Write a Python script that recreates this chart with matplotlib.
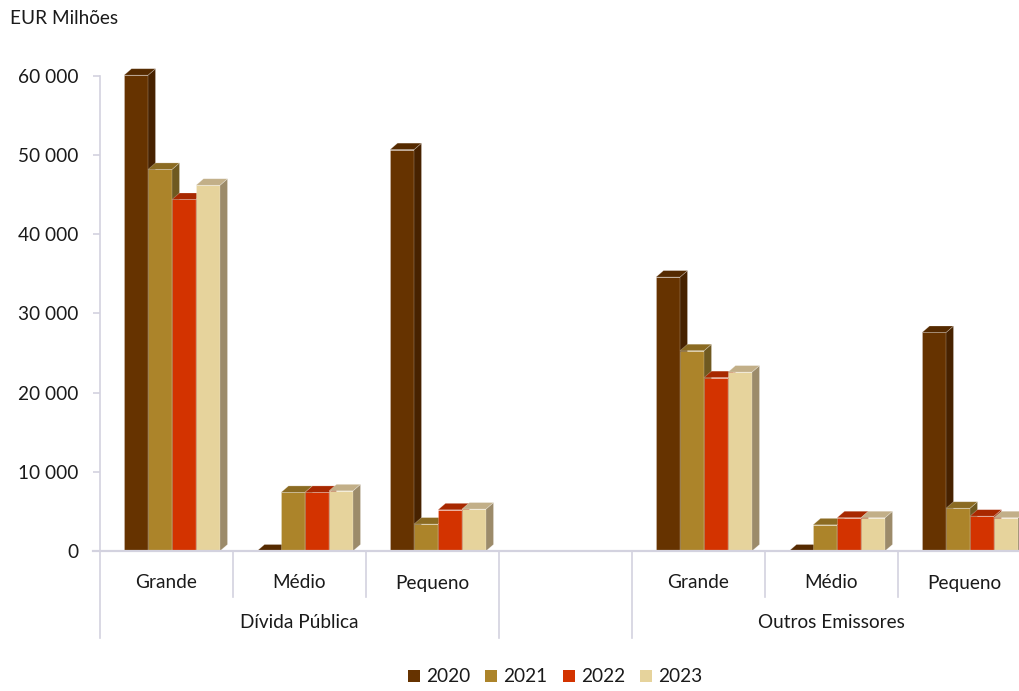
import matplotlib
matplotlib.use("Agg")
import matplotlib.pyplot as plt
from matplotlib.patches import Polygon, Rectangle, Patch
from matplotlib.ticker import FuncFormatter

plt.rcParams["font.family"] = ["Lato", "DejaVu Sans"]

# ---- data -------------------------------------------------------------
groups = ["Dívida Pública", "Outros Emissores"]
sizes = ["Grande", "Médio", "Pequeno"]
years = ["2020", "2021", "2022", "2023"]

# EUR millions, order: Grande, Médio, Pequeno
divida_publica = {
    "2020": [60100, 0, 50700],
    "2021": [48200, 7400, 3400],
    "2022": [44400, 7400, 5200],
    "2023": [46200, 7600, 5300],
}
outros_emissores = {
    "2020": [34600, 0, 27600],
    "2021": [25300, 3300, 5400],
    "2022": [21900, 4200, 4400],
    "2023": [22600, 4200, 4200],
}
yticks = [0, 10000, 20000, 30000, 40000, 50000, 60000]

# ---- styling ----------------------------------------------------------
front_col = {"2020": "#663300", "2021": "#ac842a", "2022": "#d33300", "2023": "#e6d39c"}
top_col = {"2020": "#552a00", "2021": "#8b6b22", "2022": "#a82800", "2023": "#c2af88"}
side_col = {"2020": "#472200", "2021": "#6f5920", "2022": "#962600", "2023": "#9c8b6a"}
axis_col = "#d3d2df"
text_col = "#1a1a1a"
fs = 13.7

W, H = 1019, 691
fig = plt.figure(figsize=(W / 100, H / 100), dpi=100)

ax_left, ax_right, ax_top, ax_bottom = 100, 1019, 60, 551
ax = fig.add_axes([ax_left / W, 1 - ax_bottom / H,
                   (ax_right - ax_left) / W, (ax_bottom - ax_top) / H])

slot_px = 133.0
ymax = 62021
ax.set_xlim(0, (ax_right - ax_left) / slot_px)
ax.set_ylim(0, ymax)

px_per_unit = (ax_bottom - ax_top) / ymax
bar_w = 24 / slot_px
gap = 24 / slot_px
dx = 7.5 / slot_px
dy = 6.5 / px_per_unit

edge = dict(edgecolor=(1, 1, 1, 0.3), linewidth=0.5)


def draw_bar(x0, v, year):
    x1 = x0 + bar_w
    if v > 0:
        ax.add_patch(Rectangle((x0, 0), bar_w, v, facecolor=front_col[year], **edge))
        ax.add_patch(Polygon([(x1, 0), (x1 + dx, dy), (x1 + dx, v + dy), (x1, v)],
                             closed=True, facecolor=side_col[year], **edge))
    ax.add_patch(Polygon([(x0, v), (x1, v), (x1 + dx, v + dy), (x0 + dx, v + dy)],
                         closed=True, facecolor=top_col[year], **edge))


slot_starts = {0: [0, 1, 2], 1: [4, 5, 6]}
for gi, data in enumerate([divida_publica, outros_emissores]):
    for si, slot in enumerate(slot_starts[gi]):
        for yi, year in enumerate(years):
            draw_bar(slot + gap + yi * bar_w, data[year][si], year)

# ---- axes -------------------------------------------------------------
for s in ["top", "right", "bottom"]:
    ax.spines[s].set_visible(False)
ax.spines["left"].set_color(axis_col)
ax.spines["left"].set_linewidth(1.2)
ax.spines["left"].set_bounds(0, yticks[-1])
ax.set_yticks(yticks)
ax.yaxis.set_major_formatter(FuncFormatter(lambda v, p: f"{v:,.0f}".replace(",", " ")))
ax.tick_params(axis="y", direction="out", length=5, width=1.2, color=axis_col,
               labelsize=fs, labelcolor=text_col, pad=10.5)
ax.set_xticks([])

# horizontal category axis and its dividers
tr = ax.get_xaxis_transform()
hax = ax_bottom - ax_top
ax.plot([-7 / slot_px, ax.get_xlim()[1]], [0, 0], transform=tr, color=axis_col,
        lw=1.6, clip_on=False, zorder=5)
short_len = -(597 - ax_bottom) / hax
long_len = -(638 - ax_bottom) / hax
for xb in [1, 2, 5, 6]:
    ax.plot([xb, xb], [0, short_len], transform=tr, color=axis_col, lw=1.2, clip_on=False)
for xb in [0, 3, 4]:
    ax.plot([xb, xb], [0, long_len], transform=tr, color=axis_col, lw=1.2, clip_on=False)

# category and group labels
for gi, slots in slot_starts.items():
    for si, slot in enumerate(slots):
        ax.text(slot + 0.5, -(583 - ax_bottom) / hax, sizes[si], transform=tr,
                ha="center", va="center", fontsize=fs, color=text_col)
    ax.text(slots[1] + 0.5, -(623 - ax_bottom) / hax, groups[gi], transform=tr,
            ha="center", va="center", fontsize=fs, color=text_col)

fig.text(10 / W, 1 - 19 / H, "EUR Milhões", ha="left", va="center",
         fontsize=fs, color=text_col)

handles = [Patch(facecolor=front_col[y], edgecolor="none", label=y) for y in years]
fig.legend(handles=handles, loc="center", bbox_to_anchor=(555 / W, 1 - 677 / H),
           ncol=4, frameon=False, fontsize=fs, handlelength=0.63, handleheight=0.63,
           handletextpad=0.32, columnspacing=0.8, labelcolor=text_col)

fig.savefig("out.png", dpi=100)
